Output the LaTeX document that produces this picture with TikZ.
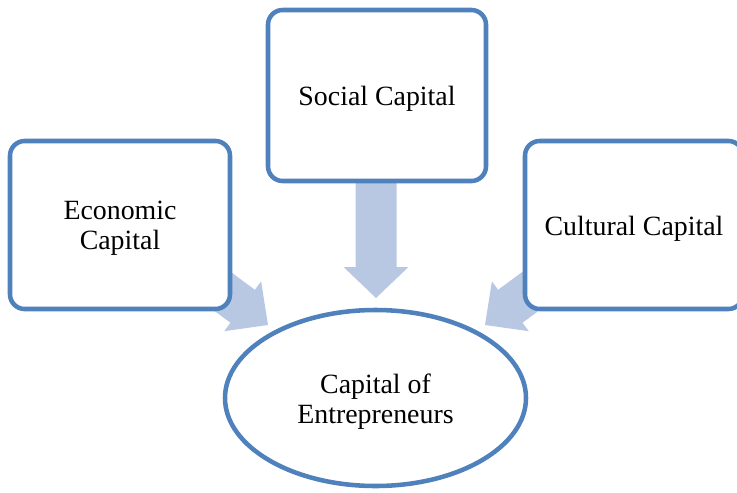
\documentclass[tikz,border=0pt]{standalone}
\usepackage{fontspec}
\setmainfont{Liberation Serif}
\usetikzlibrary{shapes.geometric}
\definecolor{bordblue}{RGB}{79,129,189}
\definecolor{arrfill}{RGB}{185,200,226}
\tikzset{
  capbox/.style={draw=bordblue, line width=3.4pt, fill=white, rounded corners=11pt, inner sep=0pt},
  capell/.style={ellipse, draw=bordblue, line width=3.4pt, fill=white, inner sep=0pt},
  captxt/.style={inner sep=0pt, align=center, font=\fontsize{20.9pt}{22.5pt}\selectfont},
  blockarrow/.style={fill=arrfill, draw=none},
}
\begin{document}
\begin{tikzpicture}[x=0.75pt, y=-0.75pt]
\clip (0,0) rectangle (737,492);
\useasboundingbox (0,0) rectangle (737,492);
% tips of block arrows
\coordinate (tipS) at (376,298);
\coordinate (tipE) at (268,325);
\coordinate (tipC) at (485,325);
% block arrows (drawn first, boxes cover their tails)
\begin{scope}[shift={(tipS)}, rotate=-90]
  \fill[blockarrow] (0,0) -- (-31,32.5) -- (-31,20.5) -- (-120,20.5) -- (-120,-20.5) -- (-31,-20.5) -- (-31,-32.5) -- cycle;
\end{scope}
\begin{scope}[shift={(tipE)}, rotate=-36.5]
  \fill[blockarrow] (0,0) -- (-31.5,31) -- (-31.5,20.5) -- (-100,20.5) -- (-100,-20.5) -- (-31.5,-20.5) -- (-31.5,-31) -- cycle;
\end{scope}
\begin{scope}[shift={(tipC)}, rotate=-143.5]
  \fill[blockarrow] (0,0) -- (-31.5,31) -- (-31.5,20.5) -- (-100,20.5) -- (-100,-20.5) -- (-31.5,-20.5) -- (-31.5,-31) -- cycle;
\end{scope}
% boxes
\node[capbox, minimum width=165pt, minimum height=126pt] (econ) at (120,225) {};
\node[capbox, minimum width=163.5pt, minimum height=128.25pt] (soc) at (377,95.5) {};
\node[capbox, minimum width=163.5pt, minimum height=126pt] (cult) at (634,225) {};
% ellipse
\node[capell, minimum width=225.75pt, minimum height=132pt] (cap) at (375.5,398) {};
% texts
\node[captxt] (econT) at ([yshift=-2.5pt]econ.center) {Economic\\Capital};
\node[captxt] (socT) at ([yshift=-2.5pt]soc.center) {Social Capital};
\node[captxt] (cultT) at ([yshift=-2.5pt]cult.center) {Cultural Capital};
\node[captxt] (capT) at ([yshift=-3pt]cap.center) {Capital of\\Entrepreneurs};
\end{tikzpicture}
\end{document}
